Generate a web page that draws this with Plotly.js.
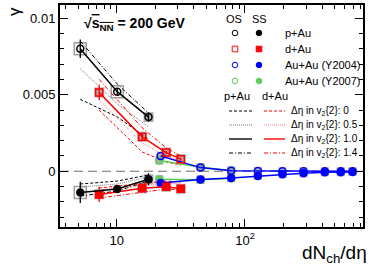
<!DOCTYPE html>
<html><head><meta charset="utf-8">
<script src="https://cdn.plot.ly/plotly-3.0.1.min.js"></script>
<style>body{margin:0;padding:0;background:#fff}#c{width:374px;height:270px}</style>
</head><body><div id="c"></div>
<script>
// ---- data ----
const pAuX = [5.2, 10.1, 17.7];
const pAuOS = [0.0080, 0.0052, 0.00354];
const pAuSS = [-0.00138, -0.00116, -0.00052];
const pAuOSerr = [0.0006, 0.0002, 0.0003];
const pAuSSerr = [0.0007, 0.0002, 0.0004];
// p+Au background curves, delta-eta gap 0, 0.5, 1.4 (1.0 = data line)
const pAuOS_d0 = [0.0047, 0.00355, 0.0021];
const pAuOS_d05 = [0.0067, 0.0044, 0.0029];
const pAuOS_d14 = [0.0085, 0.0057, 0.0038];
const pAuSS_d0 = [-0.00083, -0.00064, -0.00024];
const pAuSS_d05 = [-0.00103, -0.00083, -0.00037];
const pAuSS_d14 = [-0.00162, -0.00129, -0.00064];

const dAuX = [7.3, 15.8, 24.3, 31.6];
const dAuOS = [0.00515, 0.00225, 0.00122, 0.00079];
const dAuSS = [-0.00151, -0.00111, -0.00101, -0.00114];
const dAuOSerr = [0.0005, 0.0002, 0.0001, 0.0001];
const dAuSSerr = [0.0005, 0.0002, 0.0001, 0.0001];
const dAuOS_d0 = [0.0040, 0.00126, 0.00061, 0.00041];
const dAuOS_d05 = [0.00467, 0.00185, 0.0010, 0.00067];
const dAuOS_d14 = [0.0060, 0.00284, 0.00153, 0.0010];
const dAuSS_d0 = [-0.00109, -0.00077, -0.00064, -0.0007];
const dAuSS_d05 = [-0.00122, -0.0009, -0.00077, -0.00083];
const dAuSS_d14 = [-0.00175, -0.00136, -0.00116, -0.00122];

const au04X = [22, 45, 78, 126, 196, 286, 419, 558, 689];
const au04OS = [0.00100, 0.00024, 0.00004, 0.00002, 0.0, 0.0, 0.0, 0.0, 0.0];
const au04SS = [-0.00077, -0.00053, -0.00044, -0.00031, -0.0002, -0.00013, -0.00007, -0.00006, -0.00004];

const au07X = [21.5, 45, 78];
const au07OS = [0.0007, 0.00026, 0.00005];
const au07SS = [-0.00052, -0.00056, -0.00045];

const yTickVals = [0, 0.005, 0.01];
const yTickText = ['0', '0.005', '0.01'];
const xTickVals = [10, 100];
const xTickText = ['10', '10<sup>2</sup>'];
const xMinor = [4,5,6,7,8,9,20,30,40,50,60,70,80,90,200,300,400,500,600,700,800];

// ---- styles ----
const RED = 'rgb(255,0,0)', BLUE = 'rgb(0,0,255)', GREEN = 'rgb(90,205,90)';
const GRAYBOX = 'rgba(150,150,150,0.75)';
const DASH0 = '3px,2px', DOT05 = '1px,1px', DD14 = '4px,2px,1px,2px';

const traces = [];
function sysBox(x, y, open, size) {
  traces.push({x: x, y: y, type: 'scatter', mode: 'markers', hoverinfo: 'skip', showlegend: false,
    marker: open ? {symbol: 'square-open', size: size || 12, color: 'rgb(160,160,160)', line: {width: 1.5}}
                 : {symbol: 'square', size: size || 10, color: GRAYBOX}});
}
function line(x, y, color, dash, width) {
  traces.push({x: x, y: y, type: 'scatter', mode: 'lines', hoverinfo: 'skip', showlegend: false,
    line: {color: color, dash: dash, width: width || 1}});
}
function data(x, y, err, color, symbol, size, lw) {
  const t = {x: x, y: y, type: 'scatter', mode: 'lines+markers', showlegend: false,
    line: {color: color, width: lw || 1.5},
    marker: {symbol: symbol, size: size, color: color, line: {color: color, width: 1.5}}};
  if (err) t.error_y = {type: 'data', array: err, color: color, thickness: 1.3, width: 0};
  traces.push(t);
}

// systematic boxes
sysBox([pAuX[0], pAuX[1]], [pAuOS[0], pAuOS[1]], true);
sysBox([pAuX[0]], [pAuSS[0]], true);
sysBox([pAuX[2]], [pAuOS[2]], false);
sysBox([pAuX[2]], [pAuSS[2]], false);
sysBox(dAuX, dAuOS, false);
sysBox(dAuX, dAuSS, false);
sysBox(au04X, au04OS, false, 8);
sysBox(au04X, au04SS, false, 8);
sysBox(au07X, au07OS, false, 8);
sysBox(au07X, au07SS, false, 8);

// background curves
line(pAuX, pAuOS_d0, 'black', DASH0); line(pAuX, pAuOS_d05, 'rgb(120,120,120)', DOT05); line(pAuX, pAuOS_d14, 'black', DD14);
line(pAuX, pAuSS_d0, 'black', DASH0); line(pAuX, pAuSS_d05, 'rgb(120,120,120)', DOT05); line(pAuX, pAuSS_d14, 'black', DD14);
line(dAuX, dAuOS_d0, RED, DASH0); line(dAuX, dAuOS_d05, 'rgb(255,120,120)', DOT05); line(dAuX, dAuOS_d14, RED, DD14);
line(dAuX, dAuSS_d0, RED, DASH0); line(dAuX, dAuSS_d05, 'rgb(255,120,120)', DOT05); line(dAuX, dAuSS_d14, RED, DD14);

// data
data(au07X, au07OS, null, GREEN, 'circle-open', 7, 1.5);
data(au07X, au07SS, null, GREEN, 'circle', 7, 1.5);
data(au04X, au04OS, null, BLUE, 'circle-open', 7, 1.5);
data(au04X, au04SS, null, BLUE, 'circle', 7, 1.5);
data(dAuX, dAuOS, dAuOSerr, RED, 'square-open', 7, 1.5);
data(dAuX, dAuSS, dAuSSerr, RED, 'square', 7, 1.5);
data(pAuX, pAuOS, pAuOSerr, 'black', 'circle-open', 7, 1.5);
data(pAuX, pAuSS, pAuSSerr, 'black', 'circle', 7, 1.5);

// ---- layout geometry (legend in paper coords) ----
const L = 60, T = 5, W = 303, H = 222;
const px = v => (v - L) / W, py = v => (T + H - v) / H;
const shapes = [
  {type: 'line', xref: 'paper', yref: 'y', x0: 0, x1: 1, y0: 0, y1: 0, line: {color: 'rgb(110,110,110)', width: 1.2, dash: '9px,5px'}, layer: 'below'}
];
const ann = [];
const F = 'Liberation Sans, Arial, sans-serif';
function txt(x, y, s, size, anchor, extra) {
  ann.push(Object.assign({xref: 'paper', yref: 'paper', x: px(x), y: py(y), text: s, showarrow: false,
    xanchor: anchor || 'left', yanchor: 'middle', font: {family: F, size: size, color: 'black'}}, extra || {}));
}
function circ(cx, cy, r, color, filled) {
  shapes.push({type: 'circle', xref: 'paper', yref: 'paper', x0: px(cx - r), x1: px(cx + r), y0: py(cy + r), y1: py(cy - r),
    line: {color: color, width: 1}, fillcolor: filled ? color : 'rgba(0,0,0,0)'});
}
function rect(cx, cy, r, color, filled) {
  shapes.push({type: 'rect', xref: 'paper', yref: 'paper', x0: px(cx - r), x1: px(cx + r), y0: py(cy + r), y1: py(cy - r),
    line: {color: color, width: 1}, fillcolor: filled ? color : 'rgba(0,0,0,0)'});
}
function seg(x0, x1, y, color, dash, w) {
  shapes.push({type: 'line', xref: 'paper', yref: 'paper', x0: px(x0), x1: px(x1), y0: py(y), y1: py(y), line: {color: color, width: w || 1, dash: dash}});
}
txt(234, 19, 'OS', 11, 'center');
txt(259, 19, 'SS', 11, 'center');
const rows = [33, 49, 65, 81];
circ(235, rows[0], 2.8, 'black', false); circ(259, rows[0], 2.8, 'black', true);
rect(235, rows[1], 2.8, RED, false); rect(259, rows[1], 2.8, RED, true);
circ(235, rows[2], 2.8, BLUE, false); circ(259, rows[2], 2.8, BLUE, true);
circ(235, rows[3], 2.8, GREEN, false); circ(259, rows[3], 2.8, GREEN, true);
txt(283, rows[0], 'p+Au', 11); txt(283, rows[1], 'd+Au', 11);
txt(283, rows[2], 'Au+Au (Y2004)', 11); txt(283, rows[3], 'Au+Au (Y2007)', 11);
txt(237, 96, 'p+Au', 11, 'center'); txt(275, 96, 'd+Au', 11, 'center');
const lrows = [111, 125, 139, 153];
const gaps = ['0', '0.5', '1.0', '1.4'];
const bl = [['black', DASH0, 1], ['rgb(120,120,120)', DOT05, 1], ['rgb(80,80,80)', 'solid', 2], ['black', DD14, 1]];
const rl = [[RED, DASH0, 1], ['rgb(255,120,120)', DOT05, 1], ['rgb(255,80,80)', 'solid', 2], [RED, DD14, 1]];
lrows.forEach((yy, i) => {
  seg(229, 252, yy, bl[i][0], bl[i][1], bl[i][2]);
  seg(264, 285, yy, rl[i][0], rl[i][1], rl[i][2]);
  txt(289, yy, 'Δη in v<sub>2</sub>{2}: ' + gaps[i], 10);
});
txt(82, 24, '<b>√<span style="text-decoration:overline">s<sub>NN</sub></span> = 200 GeV</b>', 14);
txt(14, 12, 'γ', 17, 'center', {textangle: -90});
txt(369, 254, 'dN<sub>ch</sub>/dη', 19, 'right');

const layout = {
  width: 374, height: 270,
  margin: {l: L, r: 374 - L - W, t: T, b: 270 - T - H},
  paper_bgcolor: 'white', plot_bgcolor: 'white',
  showlegend: false,
  font: {family: F, size: 12, color: 'black'},
  xaxis: {type: 'log', range: [0.558, 2.92], showline: true, linecolor: 'black', linewidth: 2, mirror: 'allticks',
    ticks: 'inside', ticklen: 8, tickwidth: 1, tickcolor: 'black', tickmode: 'array', tickvals: xTickVals, ticktext: xTickText,
    tickfont: {family: F, size: 13}, showgrid: false, zeroline: false,
    minor: {tickmode: 'array', tickvals: xMinor, ticks: 'inside', ticklen: 4, tickcolor: 'black', showgrid: false}},
  yaxis: {range: [-0.00364, 0.01086], showline: true, linecolor: 'black', linewidth: 2, mirror: 'allticks',
    ticks: 'inside', ticklen: 8, tickwidth: 1, tickcolor: 'black', tickmode: 'array', tickvals: yTickVals, ticktext: yTickText,
    tickfont: {family: F, size: 13}, showgrid: false, zeroline: false,
    minor: {dtick: 0.001, tick0: 0, ticks: 'inside', ticklen: 4, tickcolor: 'black', showgrid: false}},
  shapes: shapes, annotations: ann
};
Plotly.newPlot('c', traces, layout, {staticPlot: true, displayModeBar: false});
</script></body></html>
